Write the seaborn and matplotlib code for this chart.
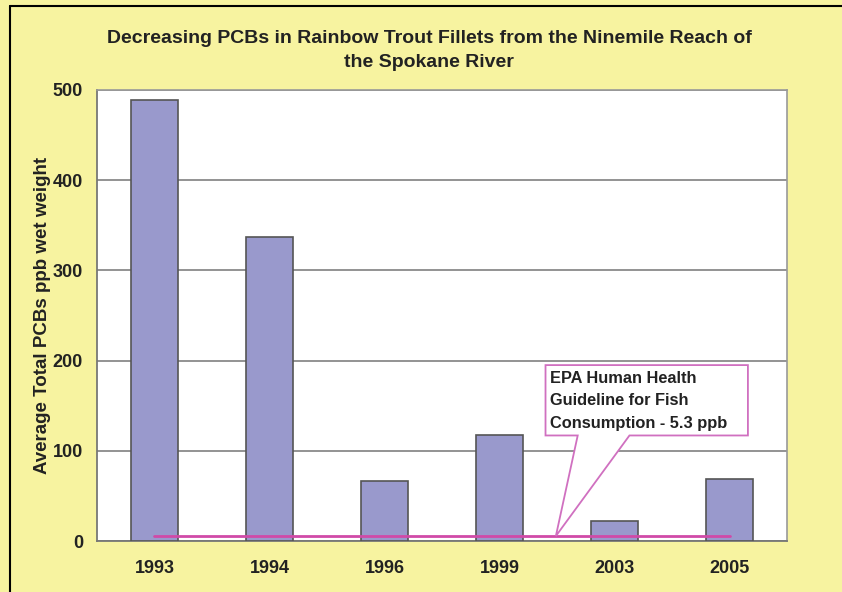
import numpy as np
import pandas as pd
import seaborn as sns
import matplotlib.pyplot as plt
from matplotlib.patches import Polygon
from matplotlib.lines import Line2D

# Data
years = ['1993', '1994', '1996', '1999', '2003', '2005']
pcb_ppb = [489, 337, 67, 118, 22, 69]
epa_guideline = 5.3

df = pd.DataFrame({'year': years, 'pcb': pcb_ppb})

sns.set_style('white')
plt.rcParams['font.family'] = ['Liberation Sans', 'DejaVu Sans']

bg = '#F7F3A0'
fig = plt.figure(figsize=(8.42, 5.92), dpi=100, facecolor=bg)
ax = fig.add_axes([0.1152, 0.0861, 0.8195, 0.762])
ax.set_facecolor('white')

sns.barplot(data=df, x='year', y='pcb', ax=ax, color='#9999CC', saturation=1,
            width=0.41, edgecolor='#555555', linewidth=1.2, zorder=3)

# guideline line from first to last category
ax.plot([0, len(years) - 1], [epa_guideline] * 2, color='#D04AA8', lw=2, zorder=4)

ax.set_ylim(0, 500)
ax.set_xlim(-0.5, len(years) - 0.5)
ax.set_yticks([0, 100, 200, 300, 400, 500])
ax.yaxis.grid(True, color='#808080', lw=1.2, zorder=0)
ax.set_axisbelow(True)

for s in ['left', 'bottom']:
    ax.spines[s].set_color('#777777')
    ax.spines[s].set_linewidth(1.3)
for s in ['right', 'top']:
    ax.spines[s].set_color('#999999')
    ax.spines[s].set_linewidth(1.2)

ax.tick_params(axis='y', length=6, color='#777777', labelsize=13, pad=4)
ax.tick_params(axis='x', which='major', length=0, labelsize=13, pad=14)
ax.set_xticks(np.arange(-0.5, len(years)), minor=True)
ax.tick_params(axis='x', which='minor', length=5, color='#777777')
for lab in ax.get_xticklabels() + ax.get_yticklabels():
    lab.set_fontweight('bold')
    lab.set_color('#222222')

ax.set_xlabel('')
ax.set_ylabel('Average Total PCBs ppb wet weight', fontsize=13.5, fontweight='bold',
              color='#222222', labelpad=1)

fig.suptitle('Decreasing PCBs in Rainbow Trout Fillets from the Ninemile Reach of\nthe Spokane River',
             x=0.51, y=0.95, fontsize=14, fontweight='bold', color='#222222',
             linespacing=1.6)

# callout box
callout = Polygon([(3.40, 195), (5.16, 195), (5.16, 117), (4.13, 117),
                   (3.49, 5.5), (3.68, 117), (3.40, 117)],
                  closed=True, facecolor='white', edgecolor='#D070C0', lw=1.3, zorder=5)
ax.add_patch(callout)
ax.text(3.44, 189, 'EPA Human Health\nGuideline for Fish\nConsumption - 5.3 ppb',
        ha='left', va='top', fontsize=11.8, fontweight='bold', color='#222222',
        linespacing=1.65, zorder=6)

# frame lines of the image
fig.add_artist(Line2D([0.012, 1], [0.99, 0.99], color='black', lw=1.5))
fig.add_artist(Line2D([0.012, 0.012], [0, 0.99], color='black', lw=1.5))

fig.savefig('out.png', dpi=100, facecolor=bg)
